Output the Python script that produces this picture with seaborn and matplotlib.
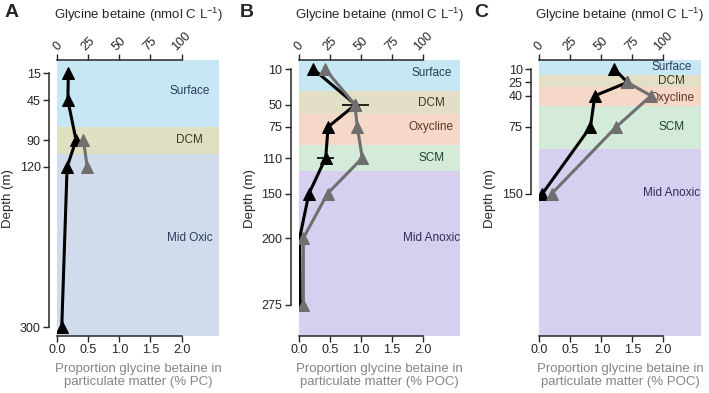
import matplotlib.pyplot as plt
import seaborn as sns
import numpy as np

sns.set_style('ticks')
plt.rcParams['font.family'] = ['Liberation Sans', 'DejaVu Sans']
plt.rcParams['mathtext.default'] = 'regular'

# Panel A (oxic station)
a_depth = [15, 45, 90, 120, 300]
a_gbt = [8.8, 8.4, 15, 7.8, 3.5]
a_prop_depth = [90, 120]
a_prop = [0.42, 0.48]
a_yticks = [15, 45, 90, 120, 300]
a_zones = ['Surface', 'DCM', 'Mid Oxic']
a_zone_top = [0, 75, 105]
a_zone_bot = [75, 105, 310]
a_label_depth = [35, 90, 200]

# Panel B (anoxic station)
b_depth = [10, 50, 75, 110, 150, 200, 275]
b_gbt = [11.5, 45.5, 23.5, 21.5, 8, 0.5, 1]
b_gbt_err = [0, 11, 0, 7, 0, 0, 0]
b_prop_depth = [10, 50, 75, 110, 150, 200, 275]
b_prop = [0.42, 0.90, 0.94, 1.02, 0.46, 0.07, 0.07]
b_yticks = [10, 50, 75, 110, 150, 200, 275]
b_zones = ['Surface', 'DCM', 'Oxycline', 'SCM', 'Mid Anoxic']
b_zone_top = [0, 35, 60, 95, 125]
b_zone_bot = [35, 60, 95, 125, 310]
b_label_depth = [14, 48, 75, 110, 200]

# Panel C (anoxic station, shallow)
c_depth = [10, 25, 40, 75, 150]
c_gbt = [60.5, 71, 44.7, 41.2, 2.5]
c_prop_depth = [25, 40, 75, 150]
c_prop = [1.42, 1.80, 1.24, 0.20]
c_yticks = [10, 25, 40, 75, 150]
c_zones = ['Surface', 'DCM', 'Oxycline', 'SCM', 'Mid Anoxic']
c_zone_top = [0, 17, 30, 52, 100]
c_zone_bot = [17, 30, 52, 100, 310]
c_label_depth = [8, 23, 42, 75, 149]

zone_fill = {'Surface': '#c8e7f4', 'DCM': '#e3dec6', 'Oxycline': '#f6d8c8',
             'SCM': '#d3ebd8', 'Mid Anoxic': '#d7cfef', 'Mid Oxic': '#d0dcec'}
zone_text = {'Surface': '#2c3e5c', 'DCM': '#3b3b25', 'Oxycline': '#5c3523',
             'SCM': '#1f4531', 'Mid Anoxic': '#33295a', 'Mid Oxic': '#2c3e5c'}

GREY = '#6f6f6f'


def draw_panel(ax, depth, gbt, err, pdepth, prop, yticks, zones, ztop, zbot,
               zlab, unit, dcm_fill=None):
    ax2 = ax.twiny()
    ax.set_zorder(2)
    ax2.set_zorder(1)
    ax.patch.set_visible(False)

    for name, t, b, ly in zip(zones, ztop, zbot, zlab):
        fill = zone_fill[name]
        if name == 'DCM' and dcm_fill:
            fill = dcm_fill
        ax2.axhspan(t, b, color=fill, lw=0, zorder=0)
        ax2.text(0.82, ly, name, transform=ax2.get_yaxis_transform(),
                 ha='center', va='center', fontsize=8.5, color=zone_text[name])

    sns.lineplot(x=gbt, y=depth, ax=ax2, orient='y', sort=False, color='black',
                 marker='^', markersize=8, markeredgecolor='black', lw=2.2)
    if err is not None:
        ax2.errorbar(gbt, depth, xerr=err, fmt='none', ecolor='black',
                     elinewidth=1.2, capsize=0)
    sns.lineplot(x=prop, y=pdepth, ax=ax, orient='y', sort=False, color=GREY,
                 marker='^', markersize=8, markeredgecolor=GREY, lw=2.2)

    ax.set_xlim(0, 2.6)
    ax2.set_xlim(0, 130)
    ax.set_ylim(310, 0)

    # bottom axis: proportion
    ax.set_xticks([0, 0.5, 1.0, 1.5, 2.0])
    ax.set_xticklabels(['0.0', '0.5', '1.0', '1.5', '2.0'])
    ax.spines['bottom'].set_bounds(0, 2)
    ax.spines['top'].set_visible(False)
    ax.spines['right'].set_visible(False)
    ax.spines['left'].set_position(('outward', 6))
    ax.spines['left'].set_bounds(yticks[0], yticks[-1])
    ax.set_yticks(yticks)
    ax.tick_params(direction='out', length=4, width=1, labelsize=9, pad=2)
    ax.set_ylabel('Depth (m)', fontsize=9.5)
    ax.set_xlabel('Proportion glycine betaine in\nparticulate matter (% ' + unit + ')',
                  color='#858585', fontsize=9.5, linespacing=1.1, labelpad=5)

    # top axis: concentration
    for s in ['bottom', 'left', 'right']:
        ax2.spines[s].set_visible(False)
    ax2.spines['top'].set_bounds(0, 100)
    ax2.set_xticks([0, 25, 50, 75, 100])
    ax2.tick_params(axis='x', direction='out', length=4, width=1, labelsize=9,
                    labelrotation=45, pad=1)
    ax2.set_xlabel('Glycine betaine (nmol C L$^{-1}$)', fontsize=9.5, labelpad=8)
    for sp in list(ax.spines.values()) + list(ax2.spines.values()):
        sp.set_linewidth(1.1)


fig = plt.figure(figsize=(7.09, 3.93), dpi=100)
bottom, height, width = 0.145, 0.702, 0.2275
axA = fig.add_axes([0.081, bottom, width, height])
axB = fig.add_axes([0.4217, bottom, width, height])
axC = fig.add_axes([0.7607, bottom, width, height])

draw_panel(axA, a_depth, a_gbt, None, a_prop_depth, a_prop, a_yticks, a_zones,
           a_zone_top, a_zone_bot, a_label_depth, 'PC', dcm_fill='#dfe0c2')
draw_panel(axB, b_depth, b_gbt, b_gbt_err, b_prop_depth, b_prop, b_yticks, b_zones,
           b_zone_top, b_zone_bot, b_label_depth, 'POC')
draw_panel(axC, c_depth, c_gbt, None, c_prop_depth, c_prop, c_yticks, c_zones,
           c_zone_top, c_zone_bot, c_label_depth, 'POC')

for x, letter in zip([0.006, 0.338, 0.669], ['A', 'B', 'C']):
    fig.text(x, 0.99, letter, fontsize=14, fontweight='bold', va='top')

fig.savefig('out.png', dpi=100)
